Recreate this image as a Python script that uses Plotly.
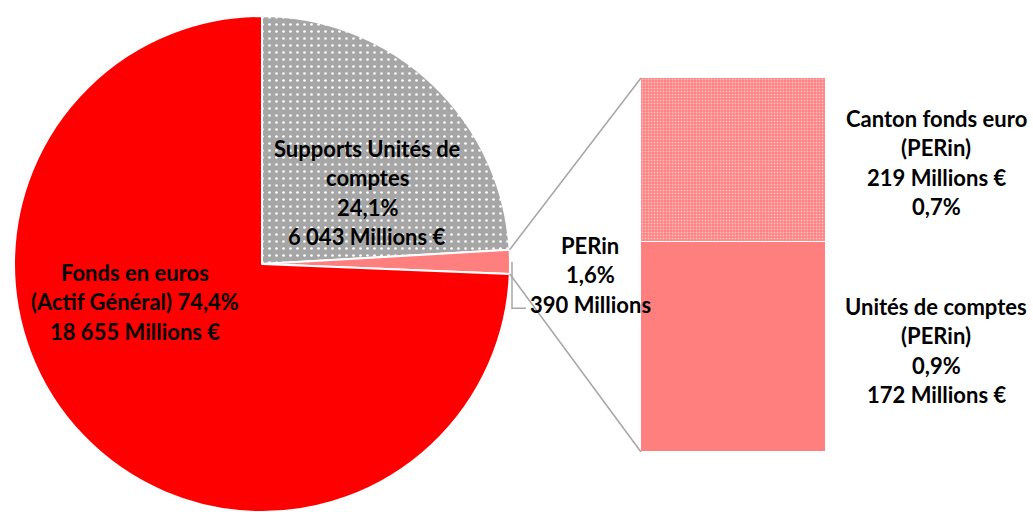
import math
import plotly.graph_objects as go

W, H = 1033, 512

# pie data (millions €)
pie_labels = ["Supports Unités de comptes", "PERin", "Fonds en euros (Actif Général)"]
pie_values = [6043, 390, 18655]
pie_colors = ["#A6A6A6", "#FF7F7F", "#FF0000"]

# breakdown of PERin (share of total, %)
bar_labels = ["Unités de comptes (PERin)", "Canton fonds euro (PERin)"]
bar_pct = [0.9, 0.7]
bar_colors = ["#FF7F7F", "#FF7F7F"]

pie_text = [
    ["Supports Unités de", "comptes", "24,1%", "6 043 Millions €"],
    ["PERin", "1,6%", "390 Millions"],
    ["Fonds en euros", "(Actif Général) 74,4%", "18 655 Millions €"],
]
bar_text = [
    ["Unités de comptes", "(PERin)", "0,9%", "172 Millions €"],
    ["Canton fonds euro", "(PERin)", "219 Millions €", "0,7%"],
]

# label anchors in pixels (centre x, first line y)
pie_text_pos = [(367, 148), (590, 245), (135, 272)]
bar_text_pos = [(936, 306), (936, 118)]
LINE_STEP = 29.6

FONT = "Lato"
FONT_SIZE = 22
GREY_LINE = "#A6A6A6"

# layout geometry in pixels
pie_x = (14, 510)
pie_y = (16, 512)
bar_x = (641, 826)
bar_y = (78, 452)


def fx(x):
    return x / W


def fy(y):
    return 1 - y / H


def px(x, y):
    return fx(x), fy(y)


fig = go.Figure()

fig.add_trace(go.Pie(
    labels=pie_labels,
    values=pie_values,
    sort=False,
    direction="clockwise",
    rotation=0,
    textinfo="none",
    hoverinfo="label+value+percent",
    marker=dict(
        colors=pie_colors,
        line=dict(color="white", width=2),
        pattern=dict(shape=[".", "", ""], bgcolor=pie_colors, fgcolor="white",
                     size=7, solidity=0.12),
    ),
    domain=dict(x=[fx(pie_x[0]), fx(pie_x[1])], y=[fy(pie_y[1]), fy(pie_y[0])]),
    showlegend=False,
))

bar_patterns = [
    dict(shape=""),
    dict(shape=".", fgcolor="white", bgcolor="#FF7F7F", size=3, solidity=0.35),
]
for lab, val, col, pat in zip(bar_labels, bar_pct, bar_colors, bar_patterns):
    fig.add_trace(go.Bar(
        x=[""],
        y=[val],
        name=lab,
        marker=dict(color=col, line=dict(color="white", width=1.5), pattern=pat),
        showlegend=False,
    ))

fig.update_layout(
    width=W,
    height=H,
    margin=dict(l=0, r=0, t=0, b=0),
    paper_bgcolor="white",
    plot_bgcolor="rgba(0,0,0,0)",
    barmode="stack",
    bargap=0,
    xaxis=dict(domain=[fx(bar_x[0]), fx(bar_x[1])], range=[-0.5, 0.5], visible=False),
    yaxis=dict(domain=[fy(bar_y[1]), fy(bar_y[0])], range=[0, sum(bar_pct)], visible=False),
    font=dict(family=FONT, size=FONT_SIZE, color="black"),
)


def add_label(lines, cx, cy):
    for i, line in enumerate(lines):
        xx, yy = px(cx, cy + i * LINE_STEP)
        fig.add_annotation(
            text="<b>%s</b>" % line, x=xx, y=yy, xref="paper", yref="paper",
            xanchor="center", yanchor="middle", showarrow=False,
            font=dict(family=FONT, size=FONT_SIZE, color="black"),
        )


for lines, (cx, cy) in zip(pie_text, pie_text_pos):
    add_label(lines, cx, cy)
for lines, (cx, cy) in zip(bar_text, bar_text_pos):
    add_label(lines, cx, cy)

# connector lines from the PERin slice to the bar
total = sum(pie_values)
pcx = (pie_x[0] + pie_x[1]) / 2
pcy = (pie_y[0] + pie_y[1]) / 2
R = (pie_y[1] - pie_y[0]) / 2
a1 = math.radians(360 * pie_values[0] / total)
a2 = math.radians(360 * (pie_values[0] + pie_values[1]) / total)
p1 = (pcx + R * math.sin(a1), pcy - R * math.cos(a1))
p2 = (pcx + R * math.sin(a2), pcy - R * math.cos(a2))

for (sx, sy), ey in [(p1, bar_y[0]), (p2, bar_y[1])]:
    x0, y0 = px(sx, sy)
    x1, y1 = px(bar_x[0], ey)
    fig.add_shape(type="line", xref="paper", yref="paper", x0=x0, y0=y0, x1=x1, y1=y1,
                  line=dict(color=GREY_LINE, width=1.5))

# leader line for the PERin label
am = (a1 + a2) / 2
lx = pcx + (R + 2) * math.sin(am)
ly = pcy - (R + 2) * math.cos(am)
ly_end = pie_text_pos[1][1] + 2 * LINE_STEP + 4
path = "M %f,%f L %f,%f L %f,%f" % (
    *px(lx, ly), *px(lx, ly_end), *px(lx + 14, ly_end))
fig.add_shape(type="path", xref="paper", yref="paper", path=path,
              line=dict(color=GREY_LINE, width=1.5))

# drop the default body margin so the figure sits flush in the window
fig.write_html("out.html", config={"displayModeBar": False},
               post_script="document.body.style.margin = '0';")
